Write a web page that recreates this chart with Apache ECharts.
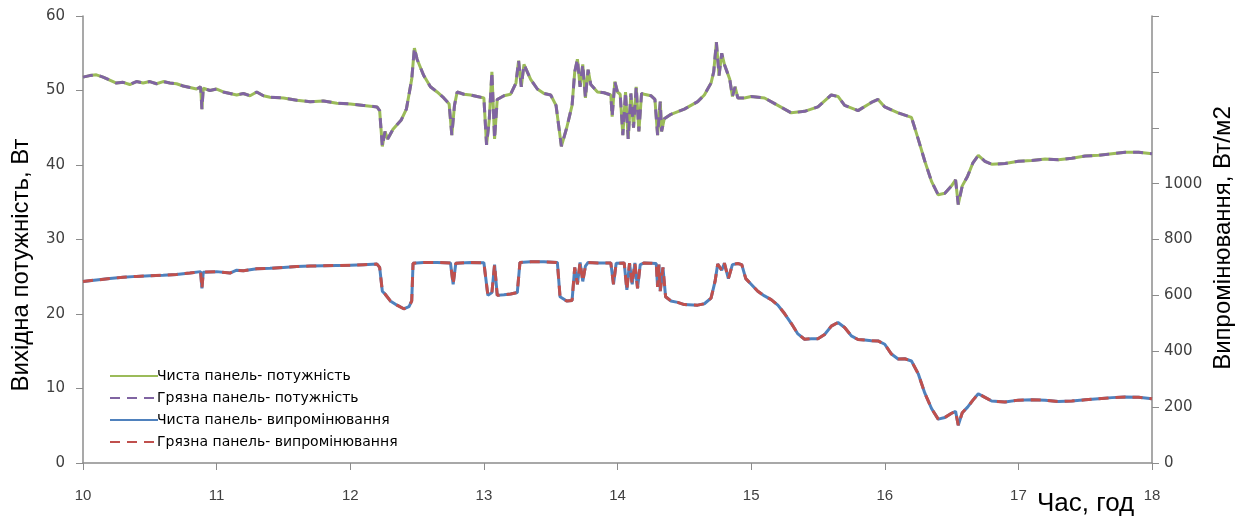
<!DOCTYPE html>
<html>
<head>
<meta charset="utf-8">
<script src="https://cdn.jsdelivr.net/npm/echarts@6/dist/echarts.min.js"></script>
<style>
html,body{margin:0;padding:0;background:#fff;}
#chart{width:1246px;height:523px;}
</style>
</head>
<body>
<div id="chart"></div>
<script>
// ---- Data (hours of day) ----
const powerTimes = [10.00,10.05,10.10,10.15,10.20,10.25,10.30,10.35,10.40,10.45,10.50,10.55,10.60,10.65,10.70,10.75,10.80,10.85,10.88,10.89,10.90,10.95,11.00,11.05,11.10,11.15,11.20,11.25,11.30,11.35,11.40,11.50,11.60,11.70,11.80,11.90,12.00,12.10,12.20,12.22,12.24,12.26,12.28,12.32,12.38,12.42,12.46,12.48,12.50,12.55,12.60,12.65,12.70,12.74,12.76,12.78,12.80,12.85,12.90,12.95,13.00,13.02,13.04,13.06,13.08,13.10,13.15,13.20,13.24,13.26,13.28,13.30,13.35,13.40,13.45,13.50,13.54,13.58,13.62,13.66,13.68,13.70,13.72,13.74,13.76,13.78,13.80,13.85,13.90,13.95,13.96,13.98,14.00,14.02,14.04,14.06,14.08,14.10,14.12,14.14,14.16,14.18,14.20,14.25,14.28,14.30,14.32,14.33,14.35,14.40,14.50,14.60,14.65,14.70,14.72,14.74,14.76,14.78,14.80,14.82,14.84,14.86,14.88,14.90,14.95,15.00,15.10,15.20,15.30,15.40,15.50,15.60,15.65,15.70,15.80,15.90,15.95,16.00,16.10,16.20,16.25,16.30,16.35,16.40,16.45,16.50,16.53,16.55,16.58,16.62,16.66,16.70,16.75,16.80,16.90,17.00,17.10,17.20,17.30,17.40,17.50,17.60,17.70,17.80,17.90,18.00];
const cleanPower = [51.8,52.0,52.1,51.8,51.4,51.0,51.1,50.8,51.2,51.0,51.2,50.9,51.2,51.0,50.9,50.6,50.4,50.2,50.5,47.5,50.3,50.0,50.2,49.8,49.6,49.4,49.6,49.3,49.8,49.3,49.1,49.0,48.7,48.5,48.6,48.3,48.2,48.0,47.8,47.3,42.5,44.5,43.5,44.8,46.0,47.5,51.5,55.7,54.2,52.0,50.5,49.8,49.0,48.2,44.0,48.0,49.8,49.5,49.4,49.2,49.0,42.7,46.0,52.5,43.5,48.8,49.3,49.5,51.0,54.0,50.5,53.5,51.5,50.2,49.6,49.4,48.0,42.5,45.0,48.0,52.5,54.2,50.5,53.5,49.0,52.8,50.8,49.8,49.7,49.4,46.5,51.2,49.8,49.5,44.0,49.8,43.5,49.6,45.0,50.5,44.5,49.6,49.5,49.3,48.8,44.0,48.5,44.5,46.2,46.8,47.5,48.5,49.4,51.0,52.5,56.5,52.0,55.0,53.5,52.5,51.5,49.2,50.5,49.0,49.0,49.2,49.0,48.0,47.0,47.2,47.8,49.4,49.2,48.0,47.3,48.4,48.8,47.8,47.0,46.4,43.5,40.5,37.8,36.0,36.2,37.2,38.0,34.7,37.2,38.5,40.3,41.3,40.5,40.1,40.2,40.5,40.6,40.8,40.7,40.9,41.2,41.3,41.5,41.7,41.7,41.5];
const dirtyPower = [51.8,52.0,52.1,51.8,51.4,51.0,51.1,50.8,51.2,51.0,51.2,50.9,51.2,51.0,50.9,50.6,50.4,50.2,50.5,47.5,50.3,50.0,50.2,49.8,49.6,49.4,49.6,49.3,49.8,49.3,49.1,49.0,48.7,48.5,48.6,48.3,48.2,48.0,47.8,47.3,42.5,44.5,43.5,44.8,46.0,47.5,51.5,55.7,54.2,52.0,50.5,49.8,49.0,48.2,44.0,48.0,49.8,49.5,49.4,49.2,49.0,42.7,46.0,52.5,43.5,48.8,49.3,49.5,51.0,54.0,50.5,53.5,51.5,50.2,49.6,49.4,48.0,42.5,45.0,48.0,52.5,54.2,50.5,53.5,49.0,52.8,50.8,49.8,49.7,49.4,46.5,51.2,49.8,49.5,44.0,49.8,43.5,49.6,45.0,50.5,44.5,49.6,49.5,49.3,48.8,44.0,48.5,44.5,46.2,46.8,47.5,48.5,49.4,51.0,52.5,56.5,52.0,55.0,53.5,52.5,51.5,49.2,50.5,49.0,49.0,49.2,49.0,48.0,47.0,47.2,47.8,49.4,49.2,48.0,47.3,48.4,48.8,47.8,47.0,46.4,43.5,40.5,37.8,36.0,36.2,37.2,38.0,34.7,37.2,38.5,40.3,41.3,40.5,40.1,40.2,40.5,40.6,40.8,40.7,40.9,41.2,41.3,41.5,41.7,41.7,41.5];

const irrTimes = [10.00,10.10,10.20,10.30,10.40,10.50,10.60,10.70,10.80,10.88,10.89,10.90,11.00,11.10,11.15,11.20,11.30,11.40,11.50,11.60,11.70,11.80,11.90,12.00,12.10,12.20,12.22,12.24,12.26,12.30,12.35,12.40,12.44,12.46,12.47,12.55,12.65,12.75,12.77,12.79,12.90,13.00,13.03,13.06,13.08,13.10,13.15,13.20,13.25,13.27,13.35,13.45,13.55,13.57,13.62,13.66,13.68,13.70,13.72,13.74,13.76,13.78,13.85,13.95,13.97,13.99,14.05,14.07,14.09,14.11,14.13,14.15,14.17,14.20,14.25,14.29,14.30,14.31,14.32,14.34,14.36,14.40,14.45,14.50,14.60,14.65,14.70,14.73,14.75,14.78,14.80,14.83,14.86,14.90,14.93,14.96,15.00,15.05,15.10,15.15,15.20,15.25,15.30,15.35,15.40,15.45,15.50,15.55,15.60,15.65,15.70,15.75,15.80,15.85,15.90,15.95,16.00,16.05,16.10,16.15,16.20,16.25,16.30,16.35,16.40,16.45,16.50,16.53,16.55,16.58,16.62,16.66,16.70,16.75,16.80,16.90,17.00,17.10,17.20,17.30,17.40,17.50,17.60,17.70,17.80,17.90,18.00];
const cleanIrr = [650,655,660,665,668,670,672,675,680,685,625,683,685,680,690,688,695,697,700,703,705,706,707,708,710,712,700,615,605,580,565,552,560,580,715,718,718,716,640,715,718,717,600,610,710,600,602,605,610,718,720,720,718,595,580,582,700,640,718,650,705,718,716,716,640,715,716,620,715,640,716,625,710,716,715,714,630,710,615,700,595,580,575,567,565,570,590,650,712,690,715,660,710,714,710,660,640,615,598,585,565,535,500,462,443,445,445,460,490,503,485,455,442,440,438,437,425,390,372,373,365,320,250,195,157,163,178,185,135,180,200,225,248,235,222,218,225,226,225,220,222,226,230,234,236,235,230];
const dirtyIrr = [650,655,660,665,668,670,672,675,680,685,625,683,685,680,690,688,695,697,700,703,705,706,707,708,710,712,700,615,605,580,565,552,560,580,715,718,718,716,640,715,718,717,600,610,710,600,602,605,610,718,720,720,718,595,580,582,700,640,718,650,705,718,716,716,640,715,716,620,715,640,716,625,710,716,715,714,630,710,615,700,595,580,575,567,565,570,590,650,712,690,715,660,710,714,710,660,640,615,598,585,565,535,500,462,443,445,445,460,490,503,485,455,442,440,438,437,425,390,372,373,365,320,250,195,157,163,178,185,135,180,200,225,248,235,222,218,225,226,225,220,222,226,230,234,236,235,230];

const seriesNames = ['Чиста панель- потужність','Грязна панель- потужність','Чиста панель- випромінювання','Грязна панель- випромінювання'];
const leftTitle = 'Вихідна потужність, Вт';
const rightTitle = 'Випромінювання, Вт/м2';
const xTitle = 'Час, год';

function pairs(t, v){ return t.map((x,i)=>[x, v[i]]); }

const chart = echarts.init(document.getElementById('chart'));
const axisGray = '#8c8c8c';
const labelStyle = {color:'#404040', fontSize:15, fontFamily:'DejaVu Sans'};
chart.setOption({
  animation:false,
  backgroundColor:'#fff',
  grid:{left:83, right:94, top:16, bottom:60, containLabel:false},
  legend:{
    orient:'vertical', left:104, top:364, itemGap:8, itemWidth:48, itemHeight:16,
    itemStyle:{opacity:0},
    textStyle:{color:'#000', fontSize:14, fontFamily:'DejaVu Sans', padding:[0,0,0,-6]},
    data: seriesNames
  },
  xAxis:{
    type:'value', min:10, max:18, interval:1,
    axisLine:{show:true, onZero:false, lineStyle:{color:axisGray, width:1.5}},
    axisTick:{show:true, inside:false, length:7, lineStyle:{color:axisGray}},
    splitLine:{show:false},
    axisLabel:{color:'#404040', fontSize:15, fontFamily:'Liberation Sans Narrow, Liberation Sans', margin:25}
  },
  yAxis:[{
    type:'value', min:0, max:60, interval:10, position:'left',
    axisLine:{show:true, lineStyle:{color:axisGray, width:1.5}},
    axisTick:{show:true, length:7, lineStyle:{color:axisGray}},
    splitLine:{show:false},
    axisLabel:Object.assign({margin:18}, labelStyle)
  },{
    type:'value', min:0, max:1600, interval:200, position:'right',
    axisLine:{show:true, lineStyle:{color:axisGray, width:1.5}},
    axisTick:{show:true, length:7, lineStyle:{color:axisGray}},
    splitLine:{show:false},
    axisLabel:Object.assign({margin:12, formatter:function(v){return v<=1000? String(v):'';}}, labelStyle)
  }],
  graphic:[
    {type:'text', x:1037, y:517, style:{text:xTitle, fill:'#000', fontSize:26, fontFamily:'Liberation Sans Narrow, Liberation Sans', verticalAlign:'bottom'}},
    {type:'text', x:21, y:265, rotation:Math.PI/2, style:{text:leftTitle, fill:'#000', fontSize:24, fontFamily:'Liberation Sans', align:'center', verticalAlign:'middle'}},
    {type:'text', x:1223, y:238, rotation:Math.PI/2, style:{text:rightTitle, fill:'#000', fontSize:24, fontFamily:'Liberation Sans', align:'center', verticalAlign:'middle'}}
  ],
  series:[
    {name:seriesNames[0], type:'line', yAxisIndex:0, data:pairs(powerTimes, cleanPower), showSymbol:false, symbol:'none',
     lineStyle:{color:'#9BBB59', width:3}, itemStyle:{color:'#9BBB59'}},
    {name:seriesNames[1], type:'line', yAxisIndex:0, data:pairs(powerTimes, dirtyPower), showSymbol:false, symbol:'none',
     lineStyle:{color:'#8064A2', width:3, type:[10,7]}, itemStyle:{color:'#8064A2'}},
    {name:seriesNames[2], type:'line', yAxisIndex:1, data:pairs(irrTimes, cleanIrr), showSymbol:false, symbol:'none',
     lineStyle:{color:'#4F81BD', width:3}, itemStyle:{color:'#4F81BD'}},
    {name:seriesNames[3], type:'line', yAxisIndex:1, data:pairs(irrTimes, dirtyIrr), showSymbol:false, symbol:'none',
     lineStyle:{color:'#C0504D', width:3, type:[10,7]}, itemStyle:{color:'#C0504D'}}
  ]
});
</script>
</body>
</html>
